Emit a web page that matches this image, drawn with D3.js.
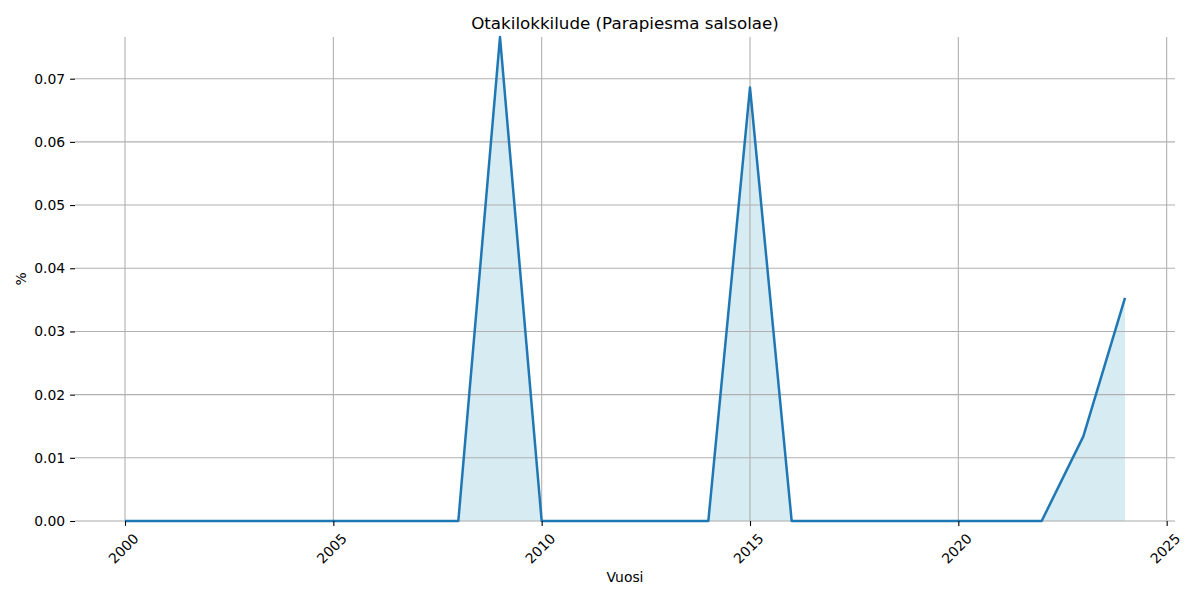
<!DOCTYPE html>
<html><head><meta charset="utf-8">
<script src="https://cdn.jsdelivr.net/npm/d3@7"></script>
<style>body{margin:0;background:#fff}svg{display:block}text{font-family:"DejaVu Sans",sans-serif;fill:#000}</style>
</head><body>
<svg id="c" width="1200" height="600"></svg>
<script>
const years = d3.range(2000, 2025);
const values = [0,0,0,0,0,0,0,0,0,0.0766,0,0,0,0,0,0.0686,0,0,0,0,0,0,0,0.0134,0.0353];
const xTicks = [2000, 2005, 2010, 2015, 2020, 2025];
const yTicks = [0, 0.01, 0.02, 0.03, 0.04, 0.05, 0.06, 0.07];
const title = "Otakilokkilude (Parapiesma salsolae)";
const xLabel = "Vuosi", yLabel = "%";

const data = years.map((y, i) => ({year: y, value: values[i]}));
const L = 75, R = 1175, T = 37, B = 521;
const svg = d3.select("#c");
const x = d3.scaleLinear().domain([1998.8, 2025.2]).range([L, R]);
const y = d3.scaleLinear().domain([0, d3.max(values)]).range([B, T]);

// faint baseline
svg.append("line").attr("x1", L).attr("x2", R).attr("y1", B).attr("y2", B)
  .attr("stroke", "#f2f2f2").attr("stroke-width", 1);

// fill
svg.append("path").datum(data)
  .attr("d", d3.area().x(d => x(d.year)).y0(y(0)).y1(d => y(d.value)))
  .attr("fill", "#add8e6").attr("fill-opacity", 0.5);

// grid
const g = svg.append("g");
g.selectAll(".gx").data(xTicks).join("line")
  .attr("x1", d => x(d)).attr("x2", d => x(d)).attr("y1", T).attr("y2", B)
  .attr("stroke", "#b0b0b0").attr("stroke-width", 1.1);
g.selectAll(".gy").data(yTicks).join("line")
  .attr("x1", L).attr("x2", R).attr("y1", d => y(d)).attr("y2", d => y(d))
  .attr("stroke", "#b0b0b0").attr("stroke-width", 1.1);

// line
svg.append("path").datum(data)
  .attr("d", d3.line().x(d => x(d.year)).y(d => y(d.value)))
  .attr("fill", "none").attr("stroke", "#1f77b4").attr("stroke-width", 2.5)
  .attr("stroke-linejoin", "round");

// y axis
const yAxis = d3.axisLeft(y).tickValues(yTicks).tickFormat(d3.format(".2f")).tickSize(4.9).tickPadding(4.9);
const ya = svg.append("g").attr("transform", `translate(${L},0)`).call(yAxis);
ya.select(".domain").remove();
ya.selectAll("line").attr("stroke", "#000").attr("stroke-width", 1.1);
ya.selectAll("text").attr("font-size", "13.9px").attr("font-family", "DejaVu Sans");

// x axis
const xAxis = d3.axisBottom(x).tickValues(xTicks).tickFormat(d3.format("d")).tickSize(4.9);
const xa = svg.append("g").attr("transform", `translate(0,${B})`).call(xAxis);
xa.select(".domain").remove();
xa.selectAll("line").attr("stroke", "#000").attr("stroke-width", 1.1);
xa.selectAll("text").attr("font-size", "13.9px").attr("font-family", "DejaVu Sans")
  .attr("y", null).attr("dy", null)
  .attr("text-anchor", "middle").attr("dominant-baseline", "central")
  .attr("transform", "translate(-2,27.5) rotate(-45)");

// labels
svg.append("text").attr("x", (L + R) / 2).attr("y", 23).attr("text-anchor", "middle")
  .attr("dominant-baseline", "central").attr("font-size", "16.7px").text(title);
svg.append("text").attr("x", (L + R) / 2).attr("y", 577).attr("text-anchor", "middle")
  .attr("dominant-baseline", "central").attr("font-size", "13.9px").text(xLabel);
svg.append("text").attr("transform", `translate(21,${(T + B) / 2}) rotate(-90)`).attr("text-anchor", "middle")
  .attr("dominant-baseline", "central").attr("font-size", "13.9px").text(yLabel);
</script>
</body></html>
